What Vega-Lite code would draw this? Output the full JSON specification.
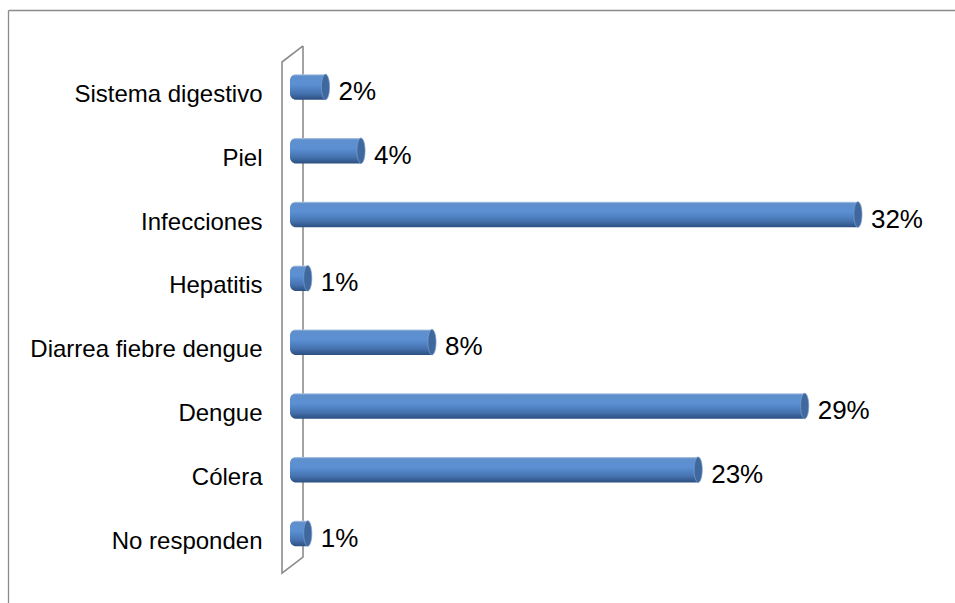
{
  "$schema": "https://vega.github.io/schema/vega-lite/v6.json",
  "autosize": {"type": "none"},
  "padding": {"left": 8, "top": 10, "right": 0, "bottom": 0},
  "width": 947,
  "height": 593,
  "background": "white",
  "config": {
    "view": {"stroke": null},
    "font": "Liberation Sans"
  },
  "datasets": {
    "causas": [
      {"causa": "Sistema digestivo", "pct": 0.02},
      {"causa": "Piel", "pct": 0.04},
      {"causa": "Infecciones", "pct": 0.32},
      {"causa": "Hepatitis", "pct": 0.01},
      {"causa": "Diarrea fiebre dengue", "pct": 0.08},
      {"causa": "Dengue", "pct": 0.29},
      {"causa": "Cólera", "pct": 0.23},
      {"causa": "No responden", "pct": 0.01}
    ],
    "pared": [
      {"k": 0, "wx": 0.00732, "wy": -0.643},
      {"k": 1, "wx": 0.00732, "wy": 7.367},
      {"k": 2, "wx": -0.0045, "wy": 7.618},
      {"k": 3, "wx": -0.0045, "wy": -0.392},
      {"k": 4, "wx": 0.00732, "wy": -0.643}
    ]
  },
  "layer": [
    {
      "data": {"name": "pared"},
      "mark": {"type": "line", "stroke": "#8c8c8c", "strokeWidth": 1.6, "clip": false},
      "encoding": {
        "x": {"field": "wx", "type": "quantitative", "scale": {"domain": [-0.1589, 0.3747], "nice": false, "zero": false},
          "axis": {"orient": "top", "title": null, "labels": false, "ticks": false, "grid": false, "domain": true, "domainColor": "#8a8a8a", "domainWidth": 1.3}},
        "y": {"field": "wy", "type": "quantitative", "scale": {"domain": [-1.2069, 8.0878], "reverse": true, "nice": false, "zero": false},
          "axis": {"orient": "left", "title": null, "labels": false, "ticks": false, "grid": false, "domain": true, "domainColor": "#8a8a8a", "domainWidth": 1.3, "offset": 0}},
        "order": {"field": "k", "type": "quantitative"}
      }
    },
    {
      "data": {"name": "causas"},
      "layer": [
        {
          "mark": {
            "type": "bar",
            "cornerRadiusTopLeft": 6,
            "cornerRadiusBottomLeft": 6,
            "fill": {
              "gradient": "linear", "x1": 0, "y1": 0, "x2": 0, "y2": 1,
              "stops": [
                {"offset": 0, "color": "#b9cde8"},
                {"offset": 0.07, "color": "#5f8fcc"},
                {"offset": 0.4, "color": "#5b90d4"},
                {"offset": 0.75, "color": "#4673b0"},
                {"offset": 1, "color": "#2c4f80"}
              ]
            }
          },
          "encoding": {
            "y": {"field": "causa", "type": "nominal", "sort": null,
              "scale": {"paddingInner": 0.6, "paddingOuter": 0.9475, "align": 0.531},
              "axis": {"title": null, "orient": "left", "offset": -274, "labelPadding": 20, "domain": false, "ticks": false, "grid": false, "labelFontSize": 24, "labelColor": "#000000", "labelFont": "Liberation Sans", "labelOffset": 8, "labelLimit": 400}},
            "x": {"field": "pct", "type": "quantitative", "scale": {"domain": [-0.1589, 0.3747], "nice": false, "zero": false}},
            "x2": {"datum": 0}
          }
        },
        {
          "mark": {"type": "point", "shape": "M0,-1 A0.32,1 0 1,1 0,1 A0.32,1 0 1,1 0,-1 Z", "filled": true, "fill": "#3f689e", "stroke": "#7d9fcb", "strokeWidth": 0.7, "opacity": 1, "size": 650},
          "encoding": {
            "y": {"field": "causa", "type": "nominal", "sort": null},
            "x": {"field": "pct", "type": "quantitative"}
          }
        },
        {
          "mark": {"type": "text", "align": "left", "baseline": "middle", "dx": 13, "dy": 5, "fontSize": 26, "font": "Liberation Sans", "color": "#000000"},
          "encoding": {
            "y": {"field": "causa", "type": "nominal", "sort": null},
            "x": {"field": "pct", "type": "quantitative"},
            "text": {"field": "pct", "type": "quantitative", "format": ".0%"}
          }
        }
      ]
    }
  ],
  "resolve": {"scale": {"y": "independent"}, "axis": {"y": "independent"}}
}
